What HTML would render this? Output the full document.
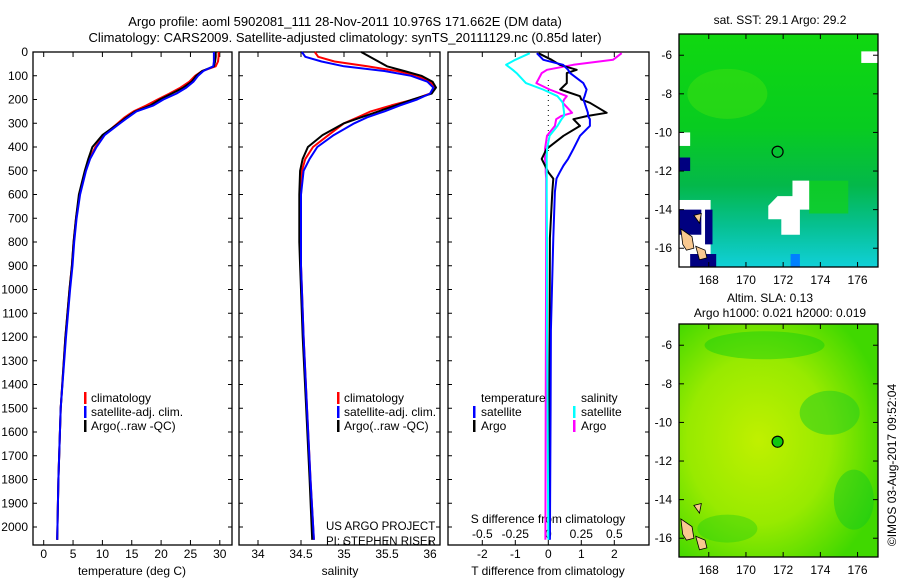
<!DOCTYPE html>
<html><head><meta charset="utf-8">
<style>
html,body{margin:0;padding:0;background:#fff;}
svg{display:block;font-family:"Liberation Sans",sans-serif;}
text{font-size:12px;fill:#000;}
</style></head>
<body>
<svg id="c" width="900" height="580" viewBox="0 0 900 580" xmlns="http://www.w3.org/2000/svg">
<defs>
<linearGradient id="sstg" x1="0" y1="0" x2="0" y2="1">
<stop offset="0" stop-color="#10d810"/><stop offset="0.4" stop-color="#08cc20"/><stop offset="0.65" stop-color="#04b84a"/><stop offset="0.82" stop-color="#06c090"/><stop offset="1" stop-color="#10d0d8"/>
</linearGradient>
<radialGradient id="slag" cx="0.4" cy="0.5" r="0.65">
<stop offset="0" stop-color="#c0f000"/><stop offset="0.55" stop-color="#98ea00"/><stop offset="1" stop-color="#40d800"/>
</radialGradient>
</defs>
<g id="root"></g>
</svg>
<script>
// ---- data ----
const depths = [0,20,40,60,80,100,125,150,175,200,225,250,275,300,350,400,450,500,600,700,800,900,1000,1200,1500,1800,2054];
const tempClim = [29.8,29.8,29.7,29.3,27.0,25.8,24.8,23.3,21.4,19.4,17.5,15.3,13.8,12.6,10.2,8.8,7.8,7.1,6.1,5.5,5.1,4.8,4.4,3.7,2.9,2.5,2.3];
const tempSat = [29.0,29.0,29.0,28.9,27.2,26.3,25.5,24.3,22.6,20.4,18.7,15.8,14.4,13.0,10.4,9.0,7.9,7.2,6.2,5.6,5.2,4.9,4.5,3.8,2.9,2.5,2.3];
const tempArgo = [29.3,29.3,29.2,29.0,27.0,26.0,25.2,23.8,21.8,19.8,18.2,15.6,14.1,12.8,10.0,8.3,7.6,7.0,6.0,5.5,5.1,4.8,4.4,3.7,2.9,2.5,2.3];
const salClim = [34.66,34.70,34.89,35.27,35.62,35.85,36.00,36.06,36.00,35.81,35.55,35.31,35.16,35.00,34.82,34.64,34.55,34.51,34.50,34.50,34.50,34.50,34.51,34.53,34.57,34.61,34.65];
const salSat = [34.51,34.55,34.74,35.00,35.47,35.78,35.97,36.04,36.00,35.85,35.65,35.47,35.27,35.12,34.88,34.69,34.60,34.53,34.50,34.50,34.50,34.50,34.51,34.53,34.57,34.61,34.65];
const salArgo = [35.20,35.30,35.40,35.50,35.70,35.90,36.03,36.07,36.02,35.80,35.60,35.40,35.20,35.00,34.75,34.58,34.52,34.49,34.48,34.48,34.48,34.49,34.50,34.52,34.56,34.60,34.63];
const diffDepths = [5,33,54,75,89,131,158,186,200,214,256,269,283,311,353,408,450,478,506,533,589,783,1172,1500,2054];
const dTsat = [-0.35,-0.15,0.45,0.6,0.66,1.06,1.16,1.1,1.06,1.1,1.2,1.2,1.26,1.26,0.96,0.76,0.6,0.46,0.35,0.25,0.2,0.15,0.08,0.07,0.05];
const dTargo = [-0.3,0.1,0.35,0.86,0.56,0.56,0.36,0.96,1.0,1.26,1.77,1.2,0.76,0.96,0.46,-0.05,-0.2,-0.1,0.0,0.15,0.12,0.05,0.04,0.03,0.02];
const dSsat = [-0.14,-0.25,-0.32,-0.27,-0.24,-0.17,-0.04,0.07,0.09,0.11,0.12,0.12,0.1,0.07,0.01,-0.01,-0.012,-0.012,-0.012,-0.012,-0.012,-0.01,-0.01,-0.005,0.0];
const dSargo = [0.556,0.49,0.19,-0.01,-0.05,-0.09,0.01,0.14,0.12,0.11,0.18,0.1,0.06,0.05,-0.01,-0.025,-0.025,-0.02,-0.02,-0.016,-0.016,-0.016,-0.018,-0.02,-0.022];
const depthTicks = [0,100,200,300,400,500,600,700,800,900,1000,1100,1200,1300,1400,1500,1600,1700,1800,1900,2000];
const tempTicks = [0,5,10,15,20,25,30];
const salTicks = ["34","34.5","35","35.5","36"];
const tdTicks = [-2,-1,0,1,2];
const sdTicks = ["-0.5","-0.25","0","0.25","0.5"];
const lonTicks = [168,170,172,174,176];
const latTicks = [-6,-8,-10,-12,-14,-16];
const floatLon = 171.7, floatLat = -11.0;

// ---- helpers ----
const NS="http://www.w3.org/2000/svg";
const root=document.getElementById('root');
function el(tag,attrs,parent){const e=document.createElementNS(NS,tag);for(const k in attrs)e.setAttribute(k,attrs[k]);(parent||root).appendChild(e);return e;}
function txt(x,y,s,anchor,parent,size){const t=el('text',{x:x,y:y,'text-anchor':anchor||'middle'},parent);if(size)t.style.fontSize=size+'px';t.textContent=s;return t;}

const TOP=52, BOT=545, DS=0.2375;
const yD=d=>TOP+d*DS;
const P1={x0:33,x1:232}, P2={x0:239,x1:440}, P3={x0:448,x1:649};
const xT=v=>43.7+v*5.87;
const xS=v=>258+(v-34)*86;
const xTd=v=>548.3+v*33;
const xSd=v=>548.3+v*132;

function frame(P,name){const r=el('rect',{x:P.x0,y:TOP,width:P.x1-P.x0,height:BOT-TOP,fill:'none',stroke:'#000','stroke-width':1.3});}
function line(xs,ds,fx,color,name,w){
  const pts=xs.map((v,i)=>fx(v).toFixed(1)+','+yD(ds[i]).toFixed(1)).join(' ');
  const p=el('polyline',{points:pts,fill:'none',stroke:color,'stroke-width':w||2,'stroke-linejoin':'round'});
  
  
}

// titles
let t=txt(345,26,'Argo profile: aoml 5902081_111 28-Nov-2011 10.976S 171.662E (DM data)','middle',null,13);


t=txt(345,42,'Climatology: CARS2009. Satellite-adjusted climatology: synTS_20111129.nc (0.85d later)','middle',null,13);



// depth ticks
depthTicks.forEach(d=>{
  const y=yD(d);
  const lb=txt(28,y+4,String(d),'end');
  
  
  [P1,P2,P3].forEach(P=>{
    el('line',{x1:P.x0,y1:y,x2:P.x0+4,y2:y,stroke:'#000'});
    el('line',{x1:P.x1,y1:y,x2:P.x1-4,y2:y,stroke:'#000'});
  });
});

// Panel 1
frame(P1,'temperature-panel');
tempTicks.forEach(v=>{const x=xT(v);el('line',{x1:x,y1:BOT,x2:x,y2:BOT-5,stroke:'#000'});el('line',{x1:x,y1:TOP,x2:x,y2:TOP+5,stroke:'#000'});
  const lb=txt(x,558,String(v));});
t=txt(132,575,'temperature (deg C)');
line(tempClim,depths,xT,'#ff0000','temp-climatology-line');
line(tempArgo,depths,xT,'#000','temp-argo-line');
line(tempSat,depths,xT,'#0000ff','temp-satellite-line');

function legend3(x,y,name){
  const items=[['#ff0000','climatology'],['#0000ff','satellite-adj. clim.'],['#000','Argo(..raw -QC)']];
  items.forEach((it,i)=>{
    const g=el('g',{});
    
    
    el('rect',{x:x,y:y+i*14-10,width:2.5,height:12,fill:it[0]},g);
    txt(x+7,y+i*14,it[1],'start',g);
  });
}
legend3(84,402,'temp-legend');

// Panel 2
frame(P2,'salinity-panel');
salTicks.forEach(s=>{const x=xS(parseFloat(s));el('line',{x1:x,y1:BOT,x2:x,y2:BOT-5,stroke:'#000'});el('line',{x1:x,y1:TOP,x2:x,y2:TOP+5,stroke:'#000'});
  const lb=txt(x,558,s);});
t=txt(340,575,'salinity');
line(salClim,depths,xS,'#ff0000','sal-climatology-line');
line(salArgo,depths,xS,'#000','sal-argo-line');
line(salSat,depths,xS,'#0000ff','sal-satellite-line');
legend3(337,402,'sal-legend');
t=txt(326,530,'US ARGO PROJECT','start',null,11.5);
t=txt(326,545,'PI: STEPHEN RISER','start',null,11.5);

// Panel 3
frame(P3,'difference-panel');
el('line',{x1:xTd(0),y1:TOP+28,x2:xTd(0),y2:yD(420),stroke:'#000','stroke-dasharray':'1,4','stroke-width':1});
tdTicks.forEach(v=>{const x=xTd(v);el('line',{x1:x,y1:BOT,x2:x,y2:BOT-5,stroke:'#000'});el('line',{x1:x,y1:TOP,x2:x,y2:TOP+5,stroke:'#000'});
  const lb=txt(x,558,String(v));});
sdTicks.forEach(s=>{const x=xSd(parseFloat(s));
  const lb=txt(x,538,s);});
t=txt(548,523,'S difference from climatology');
t=txt(548,575,'T difference from climatology');
line(dSargo,diffDepths,xSd,'#ff00ff','sdiff-argo-line');
line(dTargo,diffDepths,xTd,'#000','tdiff-argo-line');
line(dTsat,diffDepths,xTd,'#0000ff','tdiff-satellite-line');
line(dSsat,diffDepths,xSd,'#00ffff','sdiff-satellite-line');
t=txt(481,402,'temperature','start');
t=txt(581,402,'salinity','start');
[[473,'#0000ff','satellite',416],[473,'#000','Argo',430],[573,'#00ffff','satellite',416],[573,'#ff00ff','Argo',430]].forEach(a=>{
  const g=el('g',{});
  
  
  el('rect',{x:a[0],y:a[3]-10,width:2.5,height:12,fill:a[1]},g);
  txt(a[0]+8,a[3],a[2],'start',g);
});

// ---- Maps ----
function map(M,name,kind){
  const lx=v=>M.x0+(v-166.4)*18.6;
  const ly=v=>M.y0+(-4.9-v)*19.3;
  const g=el('g',{});
  
  
  el('rect',{x:M.x0,y:M.y0,width:M.x1-M.x0,height:M.y1-M.y0,fill:kind==='sst'?'url(#sstg)':'url(#slag)'},g);
  if(kind==='sst'){
    el('ellipse',{cx:lx(169),cy:ly(-8),rx:40,ry:25,fill:'#40e010','fill-opacity':0.5},g);
    el('rect',{x:lx(173.4),y:ly(-12.5),width:lx(175.5)-lx(173.4),height:ly(-14.2)-ly(-12.5),fill:'#10d020','fill-opacity':0.8},g);
    el('polygon',{points:[[lx(171.5),ly(-13.5)],[lx(171.7),ly(-13.3)],[lx(172.5),ly(-13.3)],[lx(172.5),ly(-12.5)],[lx(173.4),ly(-12.5)],[lx(173.4),ly(-14.0)],[lx(172.9),ly(-14.0)],[lx(172.9),ly(-15.3)],[lx(171.9),ly(-15.3)],[lx(171.9),ly(-14.5)],[lx(171.2),ly(-14.5)],[lx(171.2),ly(-13.8)]].join(' '),fill:'#fff'},g);
    el('rect',{x:M.x0,y:ly(-13.5),width:lx(168.1)-M.x0,height:M.y1-ly(-13.5),fill:'#fff'},g);
    el('rect',{x:M.x0,y:ly(-14),width:lx(167.6)-M.x0,height:ly(-15.3)-ly(-14),fill:'#000080'},g);
    el('rect',{x:lx(167.8),y:ly(-14),width:lx(168.2)-lx(167.8),height:ly(-15.8)-ly(-14),fill:'#000080'},g);
    el('rect',{x:M.x0,y:ly(-11.3),width:lx(167)-M.x0,height:ly(-12)-ly(-11.3),fill:'#000080'},g);
    el('rect',{x:lx(167),y:ly(-16.3),width:lx(168.4)-lx(167),height:M.y1-ly(-16.3),fill:'#000080'},g);
    el('rect',{x:M.x0,y:ly(-10),width:lx(167)-M.x0,height:ly(-10.7)-ly(-10),fill:'#fff'},g);
    el('rect',{x:lx(176.2),y:ly(-5.8),width:M.x1-lx(176.2),height:ly(-6.4)-ly(-5.8),fill:'#fff'},g);
    el('rect',{x:lx(172.4),y:ly(-16.3),width:lx(172.9)-lx(172.4),height:M.y1-ly(-16.3),fill:'#0080ff'},g);
  } else {
    el('ellipse',{cx:lx(174.5),cy:ly(-9.5),rx:30,ry:22,fill:'#20cc20','fill-opacity':0.5},g);
    el('ellipse',{cx:lx(175.8),cy:ly(-14),rx:20,ry:30,fill:'#10c820','fill-opacity':0.45},g);
    el('ellipse',{cx:lx(171),cy:ly(-6),rx:60,ry:14,fill:'#10cc10','fill-opacity':0.45},g);
    el('ellipse',{cx:lx(169),cy:ly(-15.5),rx:30,ry:14,fill:'#20cc10','fill-opacity':0.4},g);
  }
  el('polygon',{points:[[lx(166.5),ly(-15)],[lx(167.1),ly(-15.4)],[lx(167.2),ly(-16)],[lx(166.8),ly(-16.1)],[lx(166.6),ly(-15.8)]].join(' '),fill:'#f8c890',stroke:'#000','stroke-width':0.8},g);
  el('polygon',{points:[[lx(167.3),ly(-15.9)],[lx(167.8),ly(-16.1)],[lx(167.9),ly(-16.5)],[lx(167.5),ly(-16.6)]].join(' '),fill:'#f8c890',stroke:'#000','stroke-width':0.8},g);
  el('polygon',{points:[[lx(167.2),ly(-14.3)],[lx(167.6),ly(-14.2)],[lx(167.5),ly(-14.7)]].join(' '),fill:'#f8c890',stroke:'#000','stroke-width':0.8},g);
  el('rect',{x:M.x0,y:M.y0,width:M.x1-M.x0,height:M.y1-M.y0,fill:'none',stroke:'#000','stroke-width':1.3},g);
  lonTicks.forEach(v=>{const x=lx(v);el('line',{x1:x,y1:M.y1,x2:x,y2:M.y1-5,stroke:'#000'},g);el('line',{x1:x,y1:M.y0,x2:x,y2:M.y0+5,stroke:'#000'},g);
    const lb=txt(x,M.y1+17,String(v),'middle',g);});
  latTicks.forEach(v=>{const y=ly(v);el('line',{x1:M.x0,y1:y,x2:M.x0+5,y2:y,stroke:'#000'},g);el('line',{x1:M.x1,y1:y,x2:M.x1-5,y2:y,stroke:'#000'},g);
    const lb=txt(M.x0-7,y+4,String(v),'end',g);});
  const c=el('circle',{cx:lx(floatLon),cy:ly(floatLat),r:5.5,fill:kind==='sst'?'none':'#10c810',stroke:'#000','stroke-width':1.2},g);
  
  
}
map({x0:679,x1:878,y0:34,y1:267},'sst-map','sst');
map({x0:679,x1:878,y0:324,y1:557},'sla-map','sla');
t=txt(780,24,'sat. SST: 29.1  Argo: 29.2');
t=txt(770,302,'Altim. SLA: 0.13');
t=txt(780,317,'Argo h1000: 0.021 h2000: 0.019');
t=txt(0,0,'©IMOS 03-Aug-2017 09:52:04');t.setAttribute('transform','translate(896,465) rotate(-90)');


</script>
</body></html>
